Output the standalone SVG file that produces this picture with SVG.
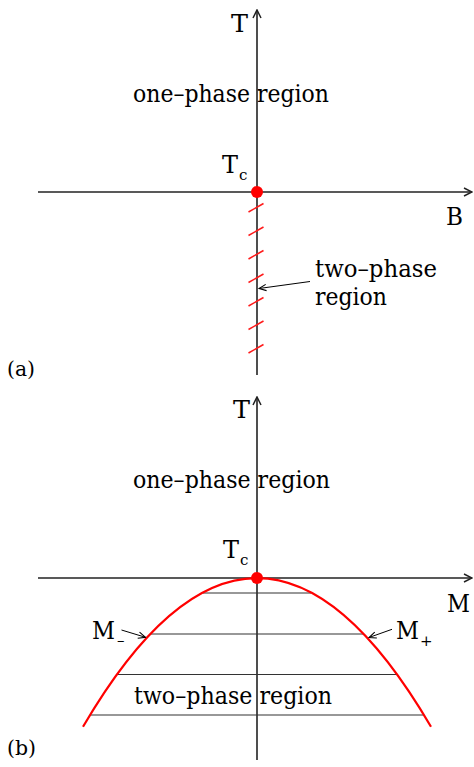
<svg xmlns="http://www.w3.org/2000/svg" width="474" height="767" viewBox="0 0 474 767">
<style>
text{font-family:'DejaVu Serif','Liberation Serif',serif;fill:#000}
.lbl{font-size:25px}
.sub{font-size:15px}
.axis{stroke:#222;stroke-width:1.6;fill:none}
.tie{stroke:#333;stroke-width:1.1;fill:none}
.hatch{stroke:#ff1a1a;stroke-width:1.5}
.curve{stroke:#f00;stroke-width:2.2;fill:none}
.ptr{stroke:#000;stroke-width:1;fill:none}
</style>
<defs>
<marker id="ax" viewBox="0 0 10 10" refX="9" refY="5" markerWidth="10" markerHeight="10" markerUnits="userSpaceOnUse" orient="auto">
<path d="M1,1 L9,5 L1,9" fill="none" stroke="#222" stroke-width="1.5"/>
</marker>
<marker id="pa" viewBox="0 0 10 10" refX="9" refY="5" markerWidth="9" markerHeight="9" markerUnits="userSpaceOnUse" orient="auto">
<path d="M1,1.5 L9,5 L1,8.5" fill="none" stroke="#000" stroke-width="1.2"/>
</marker>
</defs>

<g id="connectors">
<line class="axis" x1="257" y1="375" x2="257" y2="10" marker-end="url(#ax)"/>
<line class="axis" x1="38" y1="192" x2="472" y2="192" marker-end="url(#ax)"/>
<g class="hatch">
<line x1="248.5" y1="212" x2="263.5" y2="203.5"/>
<line x1="248.5" y1="235.5" x2="263.5" y2="227"/>
<line x1="248.5" y1="259" x2="263.5" y2="250.5"/>
<line x1="248.5" y1="282.5" x2="263.5" y2="274"/>
<line x1="248.5" y1="306" x2="263.5" y2="297.5"/>
<line x1="248.5" y1="329.5" x2="263.5" y2="321"/>
<line x1="248.5" y1="353" x2="263.5" y2="344.5"/>
</g>
<line class="ptr" x1="310" y1="281.5" x2="259" y2="288.5" marker-end="url(#pa)"/>

<line class="axis" x1="257" y1="760" x2="257" y2="397" marker-end="url(#ax)"/>
<line class="axis" x1="38" y1="578" x2="472" y2="578" marker-end="url(#ax)"/>
<line class="tie" x1="203" y1="593" x2="311" y2="593"/>
<line class="tie" x1="150" y1="634" x2="364" y2="634"/>
<line class="tie" x1="117" y1="674.5" x2="397" y2="674.5"/>
<line class="tie" x1="90" y1="715" x2="424" y2="715"/>
<path class="curve" d="M83,726.7 Q257,429.4 431,726.7"/>
<line class="ptr" x1="121.5" y1="630" x2="145.5" y2="637.3" marker-end="url(#pa)"/>
<line class="ptr" x1="392" y1="629.3" x2="369" y2="637.5" marker-end="url(#pa)"/>
</g>

<g id="critical-point-a"><circle cx="257" cy="192" r="6" fill="#f00"/></g>
<g id="critical-point-b"><circle cx="257" cy="578" r="6" fill="#f00"/></g>

<g id="labels-a">
<text class="lbl" x="231" y="32" textLength="17" lengthAdjust="spacingAndGlyphs">T</text>
<text class="lbl" x="133" y="102" textLength="196" lengthAdjust="spacingAndGlyphs">one–phase region</text>
<text class="lbl" x="222" y="173" textLength="16" lengthAdjust="spacingAndGlyphs">T</text>
<text class="sub" x="239" y="180">c</text>
<text class="lbl" x="446" y="225" textLength="17" lengthAdjust="spacingAndGlyphs">B</text>
<text class="lbl" x="315" y="277" textLength="122" lengthAdjust="spacingAndGlyphs">two–phase</text>
<text class="lbl" x="315" y="305" textLength="72" lengthAdjust="spacingAndGlyphs">region</text>
<text x="7" y="376" font-size="20" textLength="28" lengthAdjust="spacingAndGlyphs">(a)</text>
</g>

<g id="labels-b">
<text class="lbl" x="233" y="418" textLength="17" lengthAdjust="spacingAndGlyphs">T</text>
<text class="lbl" x="133" y="488" textLength="197" lengthAdjust="spacingAndGlyphs">one–phase region</text>
<text class="lbl" x="223" y="558" textLength="16" lengthAdjust="spacingAndGlyphs">T</text>
<text class="sub" x="240" y="565">c</text>
<text class="lbl" x="447" y="612" textLength="23" lengthAdjust="spacingAndGlyphs">M</text>
<text class="lbl" x="92" y="639" textLength="23" lengthAdjust="spacingAndGlyphs">M</text>
<text class="sub" x="117" y="645">–</text>
<text class="lbl" x="396" y="639" textLength="23" lengthAdjust="spacingAndGlyphs">M</text>
<text class="sub" x="420" y="646">+</text>
<text class="lbl" x="134" y="704" textLength="198" lengthAdjust="spacingAndGlyphs">two–phase region</text>
<text x="7" y="755" font-size="20" textLength="29" lengthAdjust="spacingAndGlyphs">(b)</text>
</g>
</svg>
